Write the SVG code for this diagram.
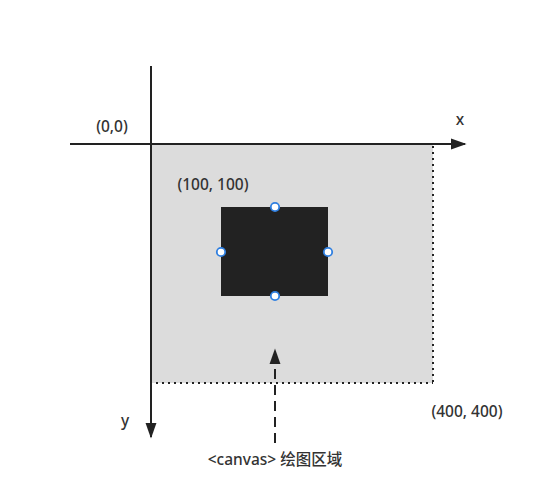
<svg xmlns="http://www.w3.org/2000/svg" width="553" height="490" viewBox="0 0 553 490">
<style>
text{font-family:"Noto Sans","Noto Sans CJK SC",sans-serif;font-size:15.5px;font-weight:500;fill:#333}
.axis{stroke:#222;stroke-width:2;fill:none}
.dot{stroke:#222;stroke-width:2;stroke-dasharray:2 4;fill:none}
.h{fill:#fff;stroke:#2f7fe0;stroke-width:1.8}
</style>
<defs>
<marker id="ab" viewBox="0 0 10 10" refX="9" refY="5" markerWidth="16" markerHeight="16" markerUnits="userSpaceOnUse" orient="auto"><path d="M0,1.5 L10,5 L0,8.5 z" fill="#222"/></marker>
</defs>
<g id="canvas-area">
<rect x="152" y="144" width="281" height="239" fill="#dcdcdc"/>
</g>
<g id="connectors">
<line class="dot" x1="433" y1="146" x2="433" y2="383"/>
<line class="dot" x1="156" y1="383" x2="433" y2="383"/>
<line class="axis" x1="70" y1="144" x2="465" y2="144" marker-end="url(#ab)"/>
<line class="axis" x1="151" y1="66" x2="151" y2="437" marker-end="url(#ab)"/>
<line class="axis" x1="275" y1="443" x2="275" y2="350" stroke-width="3" stroke-dasharray="10 6" marker-end="url(#ab)"/>
</g>
<g id="shape">
<rect x="221" y="207" width="107" height="89" fill="#222"/>
<circle class="h" cx="275" cy="207" r="4.2"/>
<circle class="h" cx="221" cy="252" r="4.2"/>
<circle class="h" cx="328" cy="252" r="4.2"/>
<circle class="h" cx="275" cy="296" r="4.2"/>
</g>
<g id="labels">
<text x="112" y="132" text-anchor="middle">(0,0)</text>
<text x="460" y="125" text-anchor="middle">x</text>
<text x="213" y="190" text-anchor="middle">(100, 100)</text>
<text x="467" y="417" text-anchor="middle">(400, 400)</text>
<text x="125" y="426" text-anchor="middle">y</text>
<text x="275" y="465" text-anchor="middle">&lt;canvas&gt; 绘图区域</text>
</g>
</svg>
